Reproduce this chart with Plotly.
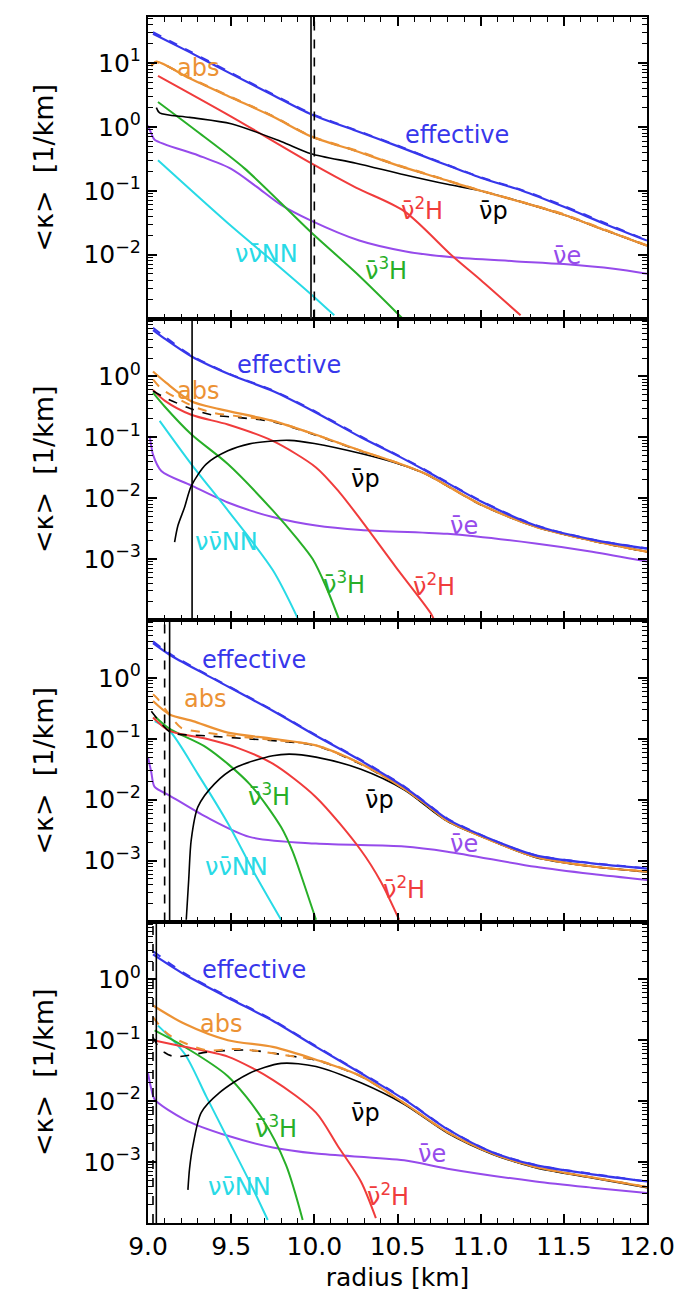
import plotly.graph_objects as go
from plotly.subplots import make_subplots

# ---------------- data: panel 1 ----------------
R_EFF_1 = [9.03, 9.25, 9.5, 9.75, 9.98, 10.25, 10.5, 10.75, 11.0, 11.25, 11.5, 11.75, 12.0]
K_EFF_1 = [28.8, 14.8, 6.76, 3.16, 1.58, 0.87, 0.50, 0.28, 0.16, 0.10, 0.056, 0.030, 0.0166]
K_EFFD_1 = [30.5, 15.3, 7.0, 3.25, 1.62, 0.89, 0.51, 0.285, 0.163, 0.102, 0.058, 0.031, 0.0168]
R_ABS_1 = [9.02, 9.05, 9.25, 9.5, 9.75, 9.98, 10.25, 10.5, 10.75, 11.0, 11.25, 11.5, 11.75, 12.0]
K_ABS_1 = [8.9, 10.5, 5.75, 2.88, 1.45, 0.71, 0.42, 0.25, 0.158, 0.10, 0.066, 0.042, 0.024, 0.0138]
K_ABSD_1 = [9.2, 10.3, 5.9, 2.95, 1.48, 0.72, 0.43, 0.255, 0.16, 0.101, 0.067, 0.043, 0.0245, 0.014]
K_PD_1 = [9.0, 10.4, 5.8, 2.9, 1.47, 0.71, 0.42, 0.25, 0.158, 0.10, 0.066, 0.042, 0.024, 0.0138]
R_P_1 = [9.05, 9.07, 9.25, 9.5, 9.8, 9.98, 10.25, 10.54, 10.8, 11.0, 11.25, 11.5, 11.75, 12.0]
K_P_1 = [2.0, 1.66, 1.41, 1.12, 0.59, 0.38, 0.27, 0.178, 0.126, 0.10, 0.066, 0.042, 0.024, 0.0138]
R_H2_1 = [9.06, 9.5, 9.98, 10.25, 10.54, 10.83, 11.0, 11.24]
K_H2_1 = [6.3, 1.45, 0.27, 0.112, 0.048, 0.0095, 0.004, 0.00112]
R_H3_1 = [9.06, 9.3, 9.58, 9.98, 10.25, 10.5, 10.53]
K_H3_1 = [2.45, 0.83, 0.224, 0.0224, 0.0052, 0.0012, 0.001]
R_NN_1 = [9.06, 9.5, 9.75, 9.98, 10.12]
K_NN_1 = [0.30, 0.028, 0.0079, 0.0024, 0.00112]
R_E_1 = [9.0, 9.02, 9.04, 9.3, 9.5, 9.65, 9.8, 9.98, 10.27, 10.55, 10.83, 11.2, 11.5, 11.8, 12.0]
K_E_1 = [1.05, 0.79, 0.63, 0.36, 0.22, 0.117, 0.060, 0.034, 0.0166, 0.0112, 0.0091, 0.0079, 0.0071, 0.006, 0.005]

# ---------------- data: panel 2 ----------------
R_EFF_2 = [9.03, 9.1, 9.26, 9.5, 9.75, 10.0, 10.28, 10.5, 10.67, 11.0, 11.33, 11.67, 12.0]
K_EFF_2 = [5.75, 4.17, 2.14, 1.05, 0.575, 0.263, 0.10, 0.050, 0.0282, 0.0089, 0.00355, 0.00209, 0.00148]
K_EFFD_2 = [6.3, 4.5, 2.2, 1.07, 0.59, 0.27, 0.103, 0.051, 0.029, 0.0091, 0.0036, 0.0021, 0.0015]
R_ABS_2 = [9.03, 9.11, 9.26, 9.43, 9.75, 10.0, 10.28, 10.5, 10.67, 11.0, 11.33, 11.67, 12.0]
K_ABS_2 = [1.2, 0.78, 0.39, 0.29, 0.186, 0.112, 0.060, 0.038, 0.025, 0.0079, 0.0034, 0.0020, 0.00132]
R_ABSD_2 = [9.03, 9.08, 9.2, 9.3, 9.4, 9.55, 9.75, 10.0, 10.28, 10.5, 10.67, 11.0, 11.33, 11.67, 12.0]
K_ABSD_2 = [0.89, 0.63, 0.40, 0.30, 0.25, 0.22, 0.186, 0.112, 0.060, 0.038, 0.025, 0.0079, 0.0034, 0.0020, 0.00132]
R_PD_2 = [9.03, 9.1, 9.25, 9.38, 9.55, 9.75, 10.0, 10.28, 10.5, 10.67, 11.0, 11.33, 11.67, 12.0]
K_PD_2 = [0.575, 0.45, 0.30, 0.234, 0.21, 0.18, 0.11, 0.059, 0.0375, 0.0248, 0.0078, 0.0034, 0.002, 0.0013]
R_P_2 = [9.16, 9.18, 9.22, 9.26, 9.35, 9.48, 9.61, 9.75, 9.85, 10.0, 10.28, 10.5, 10.67, 11.0, 11.33, 11.67, 12.0]
K_P_2 = [0.0019, 0.00355, 0.0071, 0.0158, 0.0363, 0.060, 0.078, 0.087, 0.089, 0.079, 0.054, 0.037, 0.025, 0.0079, 0.0034, 0.0020, 0.00132]
R_H2_2 = [9.03, 9.1, 9.26, 9.48, 9.75, 10.01, 10.15, 10.28, 10.49, 10.7, 10.72]
K_H2_2 = [0.60, 0.40, 0.234, 0.162, 0.087, 0.032, 0.0126, 0.0044, 0.00074, 0.000129, 0.0001]
R_H3_2 = [9.03, 9.1, 9.26, 9.48, 9.75, 9.9, 9.99, 10.07, 10.15]
K_H3_2 = [0.54, 0.32, 0.112, 0.0363, 0.0063, 0.0021, 0.001, 0.000355, 0.0001]
R_NN_2 = [9.07, 9.26, 9.48, 9.75, 9.9]
K_NN_2 = [0.186, 0.0363, 0.0063, 0.00066, 0.000107]
R_E_2 = [9.01, 9.02, 9.03, 9.08, 9.26, 9.48, 9.75, 10.01, 10.28, 10.8, 11.33, 11.67, 12.0]
K_E_2 = [0.105, 0.071, 0.052, 0.028, 0.0162, 0.0085, 0.0049, 0.00355, 0.0030, 0.0026, 0.0018, 0.00132, 0.00091]

# ---------------- data: panel 3 ----------------
R_EFF_3 = [9.03, 9.13, 9.35, 9.75, 10.01, 10.28, 10.54, 10.67, 10.8, 11.07, 11.33, 11.67, 12.0]
K_EFF_3 = [3.72, 2.4, 1.12, 0.288, 0.112, 0.0437, 0.0162, 0.0088, 0.0048, 0.0022, 0.00122, 0.0009, 0.00074]
K_EFFD_3 = [4.0, 2.5, 1.15, 0.295, 0.115, 0.045, 0.0166, 0.009, 0.0049, 0.0022, 0.00123, 0.00091, 0.00075]
R_ABS_3 = [9.03, 9.13, 9.27, 9.48, 9.75, 10.01, 10.28, 10.54, 10.67, 10.8, 11.07, 11.33, 11.67, 12.0]
K_ABS_3 = [0.417, 0.251, 0.195, 0.126, 0.10, 0.078, 0.039, 0.0151, 0.0084, 0.0045, 0.0021, 0.00115, 0.0008, 0.00066]
R_ABSD_3 = [9.03, 9.06, 9.1, 9.15, 9.2, 9.35, 9.6, 9.8, 10.01, 10.28, 10.54, 10.67, 10.8, 11.07, 11.33, 11.67, 12.0]
K_ABSD_3 = [0.537, 0.447, 0.316, 0.209, 0.151, 0.126, 0.105, 0.093, 0.078, 0.039, 0.0151, 0.0084, 0.0045, 0.0021, 0.00115, 0.0008, 0.00066]
R_PD_3 = [9.02, 9.04, 9.08, 9.14, 9.35, 9.6, 9.8, 10.01, 10.28, 10.54, 10.8, 11.07, 11.33, 11.67, 12.0]
K_PD_3 = [0.282, 0.24, 0.178, 0.126, 0.112, 0.10, 0.091, 0.077, 0.038, 0.015, 0.0045, 0.0021, 0.00115, 0.0008, 0.00066]
R_P_3 = [9.23, 9.245, 9.26, 9.3, 9.4, 9.53, 9.75, 9.85, 10.01, 10.28, 10.54, 10.8, 11.07, 11.33, 11.67, 12.0]
K_P_3 = [0.000107, 0.0005, 0.0022, 0.0076, 0.0182, 0.034, 0.0525, 0.056, 0.050, 0.0316, 0.0145, 0.0044, 0.0021, 0.00113, 0.0008, 0.00065]
R_H2_3 = [9.03, 9.13, 9.35, 9.53, 9.75, 10.01, 10.28, 10.4, 10.51]
K_H2_3 = [0.224, 0.135, 0.10, 0.0724, 0.039, 0.011, 0.00148, 0.00045, 0.000107]
R_H3_3 = [9.04, 9.13, 9.35, 9.61, 9.8, 9.87, 9.93, 10.01]
K_H3_3 = [0.234, 0.145, 0.0724, 0.0182, 0.00355, 0.0014, 0.00048, 0.000107]
R_NN_3 = [9.04, 9.13, 9.3, 9.48, 9.64, 9.8]
K_NN_3 = [0.195, 0.135, 0.0263, 0.0041, 0.00062, 0.000107]
R_E_3 = [9.0, 9.02, 9.04, 9.13, 9.35, 9.61, 10.01, 10.54, 10.8, 11.33, 11.67, 12.0]
K_E_3 = [0.05, 0.028, 0.0162, 0.0117, 0.0052, 0.00245, 0.0019, 0.0017, 0.0014, 0.00079, 0.0006, 0.00048]

# ---------------- data: panel 4 ----------------
R_EFF_4 = [9.03, 9.22, 9.48, 9.75, 10.01, 10.28, 10.54, 10.8, 11.07, 11.33, 11.67, 12.0]
K_EFF_4 = [2.57, 1.2, 0.50, 0.209, 0.078, 0.0288, 0.0107, 0.00347, 0.00145, 0.00089, 0.00063, 0.00048]
K_EFFD_4 = [2.9, 1.25, 0.52, 0.215, 0.08, 0.0295, 0.011, 0.0035, 0.00146, 0.0009, 0.00064, 0.00048]
R_ABS_4 = [9.03, 9.22, 9.48, 9.75, 10.01, 10.28, 10.54, 10.8, 11.07, 11.33, 11.67, 12.0]
K_ABS_4 = [0.372, 0.186, 0.10, 0.078, 0.048, 0.0257, 0.0093, 0.0031, 0.00138, 0.00083, 0.00056, 0.00039]
R_ABSD_4 = [9.03, 9.1, 9.16, 9.35, 9.55, 9.88, 10.01, 10.28, 10.54, 10.8, 11.07, 11.33, 11.67, 12.0]
K_ABSD_4 = [0.24, 0.141, 0.107, 0.069, 0.072, 0.054, 0.048, 0.0257, 0.0093, 0.0031, 0.00138, 0.00083, 0.00056, 0.00039]
R_PD_4 = [9.03, 9.05, 9.1, 9.16, 9.38, 9.6, 9.88, 10.01, 10.28, 10.54, 10.8, 11.07, 11.33, 11.67, 12.0]
K_PD_4 = [0.112, 0.089, 0.063, 0.054, 0.065, 0.069, 0.054, 0.047, 0.0255, 0.0092, 0.0031, 0.00137, 0.00082, 0.00056, 0.00039]
R_P_4 = [9.24, 9.25, 9.27, 9.32, 9.43, 9.61, 9.8, 10.01, 10.28, 10.54, 10.8, 11.07, 11.33, 11.67, 12.0]
K_P_4 = [0.00035, 0.00079, 0.00186, 0.0065, 0.0138, 0.0288, 0.0417, 0.0372, 0.02, 0.0089, 0.003, 0.00135, 0.00081, 0.00055, 0.00038]
R_H2_4 = [9.03, 9.22, 9.48, 9.75, 10.01, 10.14, 10.28, 10.37]
K_H2_4 = [0.10, 0.078, 0.054, 0.0224, 0.0065, 0.00186, 0.00048, 0.00012]
R_H3_4 = [9.04, 9.22, 9.48, 9.69, 9.83, 9.93]
K_H3_4 = [0.145, 0.078, 0.0257, 0.005, 0.00089, 0.000112]
R_NN_4 = [9.06, 9.22, 9.35, 9.48, 9.61, 9.72]
K_NN_4 = [0.174, 0.060, 0.012, 0.0024, 0.00048, 0.000112]
R_E_4 = [9.0, 9.02, 9.04, 9.22, 9.48, 9.75, 10.01, 10.54, 10.8, 11.33, 11.67, 12.0]
K_E_4 = [0.0288, 0.0158, 0.0107, 0.005, 0.0027, 0.00174, 0.00138, 0.00107, 0.00078, 0.00048, 0.00038, 0.00031]

# vertical marker radii per panel
VLINE_SOLID = [9.98, 9.265, 9.13, 9.05]
VLINE_DASH = [10.0, None, 9.10, 9.03]

X_TICKS = [9.0, 9.5, 10.0, 10.5, 11.0, 11.5, 12.0]
X_TICKTEXT = ["9.0", "9.5", "10.0", "10.5", "11.0", "11.5", "12.0"]

# labelled decades per panel (exponents)
Y_LABEL_EXP = [[1, 0, -1, -2], [0, -1, -2, -3], [0, -1, -2, -3], [0, -1, -2, -3]]
Y_RANGES = [[-3, 1.72], [-4, 0.95], [-4, 0.95], [-4, 0.95]]

LABELS = {
    "eff": "effective", "abs": "abs", "h2": "ν̄<sup>2</sup>H", "p": "ν̄p",
    "e": "ν̄e", "nn": "νν̄NN", "h3": "ν̄<sup>3</sup>H",
}
COLORS = {
    "eff": "rgb(55,55,235)", "abs": "rgb(236,146,52)", "p": "black",
    "h2": "rgb(240,60,60)", "h3": "rgb(40,175,40)", "nn": "rgb(40,218,230)",
    "e": "rgb(150,75,235)",
}

# label placement (radius, log10 kappa) per panel
LABEL_POS = [
    {"eff": (10.86, -0.13), "abs": (9.3, 0.92), "h2": (10.65, -1.29), "p": (11.08, -1.32),
     "e": (11.52, -2.02), "nn": (9.71, -1.99), "h3": (10.43, -2.22)},
    {"eff": (9.85, 0.19), "abs": (9.3, -0.24), "p": (10.31, -1.68), "e": (10.9, -2.45),
     "nn": (9.47, -2.72), "h3": (10.18, -3.4), "h2": (10.72, -3.42)},
    {"eff": (9.64, 0.3), "abs": (9.34, -0.35), "h3": (9.73, -1.93), "p": (10.39, -2.01),
     "e": (10.9, -2.72), "nn": (9.53, -3.1), "h2": (10.54, -3.45)},
    {"eff": (9.64, 0.16), "abs": (9.44, -0.73), "h3": (9.77, -2.43), "p": (10.31, -2.19),
     "e": (10.71, -2.86), "nn": (9.55, -3.41), "h2": (10.44, -3.54)},
]

PANELS = [
    dict(eff=(R_EFF_1, K_EFF_1), effd=(R_EFF_1, K_EFFD_1), abs=(R_ABS_1, K_ABS_1),
         absd=(R_ABS_1, K_ABSD_1), pd=(R_ABS_1, K_PD_1), p=(R_P_1, K_P_1),
         h2=(R_H2_1, K_H2_1), h3=(R_H3_1, K_H3_1), nn=(R_NN_1, K_NN_1), e=(R_E_1, K_E_1)),
    dict(eff=(R_EFF_2, K_EFF_2), effd=(R_EFF_2, K_EFFD_2), abs=(R_ABS_2, K_ABS_2),
         absd=(R_ABSD_2, K_ABSD_2), pd=(R_PD_2, K_PD_2), p=(R_P_2, K_P_2),
         h2=(R_H2_2, K_H2_2), h3=(R_H3_2, K_H3_2), nn=(R_NN_2, K_NN_2), e=(R_E_2, K_E_2)),
    dict(eff=(R_EFF_3, K_EFF_3), effd=(R_EFF_3, K_EFFD_3), abs=(R_ABS_3, K_ABS_3),
         absd=(R_ABSD_3, K_ABSD_3), pd=(R_PD_3, K_PD_3), p=(R_P_3, K_P_3),
         h2=(R_H2_3, K_H2_3), h3=(R_H3_3, K_H3_3), nn=(R_NN_3, K_NN_3), e=(R_E_3, K_E_3)),
    dict(eff=(R_EFF_4, K_EFF_4), effd=(R_EFF_4, K_EFFD_4), abs=(R_ABS_4, K_ABS_4),
         absd=(R_ABSD_4, K_ABSD_4), pd=(R_PD_4, K_PD_4), p=(R_P_4, K_P_4),
         h2=(R_H2_4, K_H2_4), h3=(R_H3_4, K_H3_4), nn=(R_NN_4, K_NN_4), e=(R_E_4, K_E_4)),
]

FONT = "DejaVu Sans"

fig = make_subplots(rows=4, cols=1, shared_xaxes=True, vertical_spacing=0)

# draw order: (key, colour key, dash, width)
ORDER = [
    ("e", "e", "solid", 2), ("nn", "nn", "solid", 2), ("h3", "h3", "solid", 2),
    ("h2", "h2", "solid", 2), ("p", "p", "solid", 1.6), ("pd", "p", "dash", 1.6),
    ("abs", "abs", "solid", 2.2), ("absd", "abs", "dash", 2),
    ("effd", "eff", "dash", 2), ("eff", "eff", "solid", 2.2),
]

for i, pan in enumerate(PANELS):
    row = i + 1
    for key, ck, dash, w in ORDER:
        rr, kk = pan[key]
        fig.add_trace(go.Scatter(x=rr, y=kk, mode="lines", showlegend=False,
                                 line=dict(color=COLORS[ck], width=w, dash=dash,
                                           shape="spline", smoothing=0.8),
                                 hoverinfo="skip"), row=row, col=1)
    fig.add_vline(x=VLINE_SOLID[i], row=row, col=1,
                  line=dict(color="rgb(50,50,50)" if i == 0 else "black", width=2 if i == 0 else 1.6))
    if VLINE_DASH[i] is not None:
        fig.add_vline(x=VLINE_DASH[i], row=row, col=1,
                      line=dict(color="black", width=1.6, dash="dash"))
    xref = "x" if row == 1 else f"x{row}"
    yref = "y" if row == 1 else f"y{row}"
    for key, (rx, ly) in LABEL_POS[i].items():
        fig.add_annotation(x=rx, y=ly, xref=xref, yref=yref, text=LABELS[key],
                           showarrow=False, font=dict(family=FONT, size=24, color=COLORS[key]))

# axes
for i in range(4):
    row = i + 1
    lo, hi = Y_RANGES[i]
    exps = Y_LABEL_EXP[i]
    majors = [10.0 ** p for p in exps]
    texts = [f"10<sup>{p if p >= 0 else chr(0x2212) + str(-p)}</sup>" for p in exps]
    minors = [m * 10.0 ** p for p in range(int(lo), int(hi) + 1) for m in range(2, 10)]
    fig.update_yaxes(type="log", range=[lo, hi], tickvals=majors, ticktext=texts,
                     ticks="inside", ticklen=9, tickwidth=1.5, tickcolor="black",
                     showline=True, linecolor="black", linewidth=2, mirror="allticks",
                     showgrid=False, zeroline=False,
                     minor=dict(tickvals=minors, ticks="inside", ticklen=5, tickwidth=1.2,
                                tickcolor="black", showgrid=False),
                     tickfont=dict(family=FONT, size=25, color="black"),
                     title=dict(text="&lt;κ&gt;  [1/km]", standoff=22,
                                font=dict(family=FONT, size=27, color="black")),
                     row=row, col=1)
    fig.update_xaxes(range=[9.0, 12.0], tickvals=X_TICKS, ticktext=X_TICKTEXT,
                     ticks="inside", ticklen=9, tickwidth=1.5, tickcolor="black",
                     showline=True, linecolor="black", linewidth=2, mirror="allticks",
                     showgrid=False, zeroline=False,
                     minor=dict(dtick=0.1, ticks="inside", ticklen=5, tickwidth=1.2,
                                tickcolor="black", showgrid=False),
                     tickfont=dict(family=FONT, size=25, color="black"),
                     showticklabels=(row == 4), row=row, col=1)

fig.update_xaxes(title=dict(text="radius [km]", standoff=8,
                            font=dict(family=FONT, size=25, color="black")), row=4, col=1)

fig.update_layout(width=688, height=1295, plot_bgcolor="white", paper_bgcolor="white",
                  margin=dict(l=140, r=49, t=7, b=80), showlegend=False)

fig.write_html("out.html")
